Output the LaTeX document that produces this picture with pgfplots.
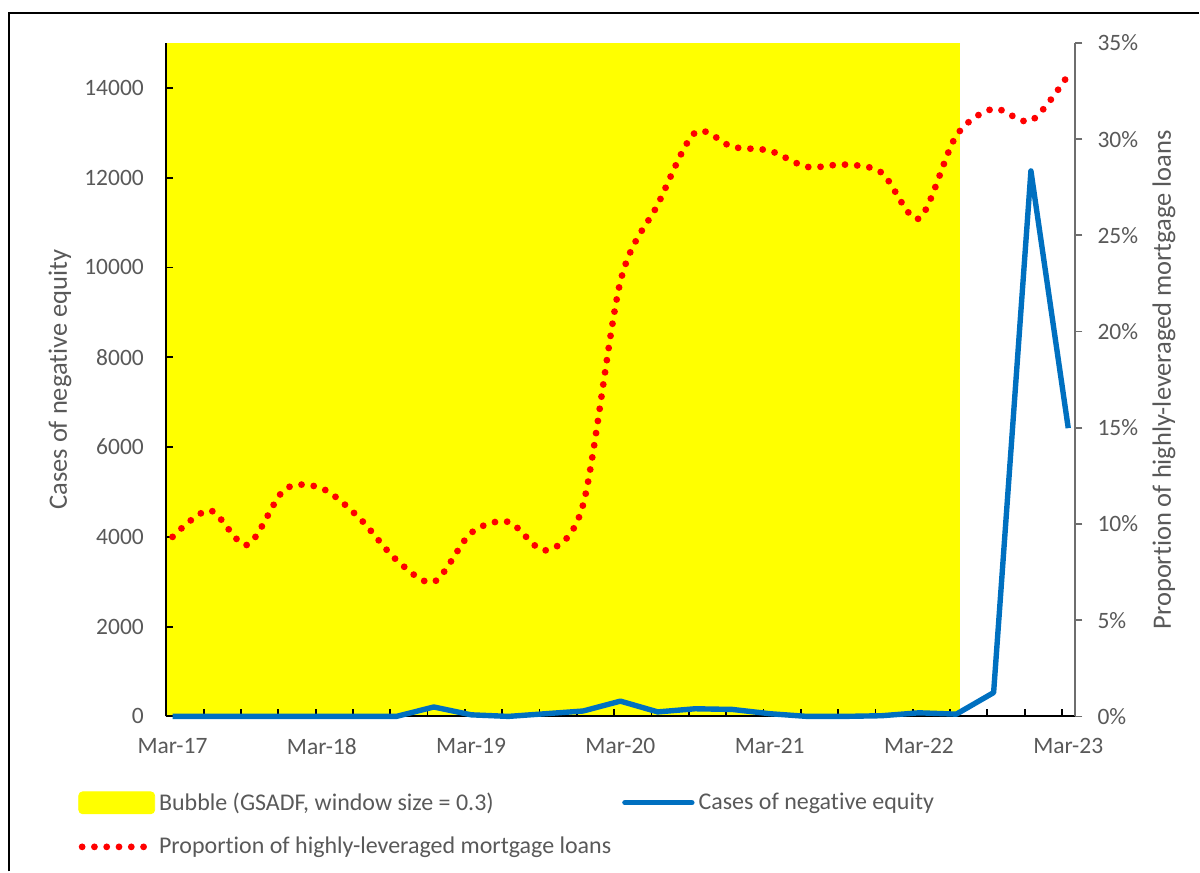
\documentclass[border=0pt]{standalone}
\usepackage{fontspec}
\setmainfont{Carlito}[Ligatures=NoCommon]
\usepackage{pgfplots}
\usepackage{pgfplotstable}
\pgfplotsset{compat=1.18}
\definecolor{txtgray}{RGB}{89,89,89}
\definecolor{xlblue}{RGB}{0,112,192}
\definecolor{axgray}{RGB}{110,110,110}
\definecolor{xlyellow}{RGB}{255,255,0}
\definecolor{xlred}{RGB}{255,0,0}

\pgfplotstableread{
m neg prop
0 0 9.33
3 0 10.71
6 0 8.91
9 0 11.79
12 0 11.85
15 0 10.32
18 0 8.13
21 210 6.99
24 35 9.54
27 0 10.11
30 60 8.63
33 120 11.0
36 340 22.6
39 100 26.6
42 170 30.34
45 155 29.6
48 60 29.4
51 0 28.56
54 0 28.68
57 15 28.26
60 80 25.87
63 50 30.18
66 530 31.58
69 12150 30.95
72 6420 33.34
}\datatable

\pgfplotstableread{
m bubble
-0.54 15000
63.3 15000
}\bubbletable

\begin{document}
\begin{tikzpicture}
\path (0,0) rectangle (600pt,436pt);
\draw[line width=1pt] (4.75pt,0pt) -- (4.75pt,429.4pt) -- (600pt,429.4pt);
\begin{axis}[
  at={(83pt,77.5pt)}, anchor=south west,
  scale only axis, width=455pt, height=337pt,
  set layers, clip=false,
  xmin=-0.54, xmax=72.55, ymin=0, ymax=15000,
  axis x line*=bottom, axis y line*=left,
  axis line style={black, line width=0.9pt},
  xtick={-0.5,2.5,...,71.5},
  xticklabels={Mar-17,,,,Mar-18,,,,Mar-19,,,,Mar-20,,,,Mar-21,,,,Mar-22,,,,Mar-23},
  xticklabel style={xshift=3.1pt},
  ytick={0,2000,...,14000},
  scaled y ticks=false,
  major tick length=3.6pt,
  tick style={black, line width=0.9pt},
  tick align=inside,
  ticklabel style={font=\fontsize{11.75}{14}\selectfont, text=txtgray},
  /pgf/number format/assume math mode=true,
  /pgf/number format/1000 sep={},
  yticklabel={\pgfmathprintnumber[fixed,precision=0,1000 sep={}]{\tick}},
  xticklabel shift=7.5pt, yticklabel shift=7.5pt,
  every axis y label/.style={at={(axis description cs:-0.1165,0.5)}, rotate=90, anchor=center},
  ylabel={Cases of negative equity},
  ylabel style={font=\fontsize{13.25}{16}\selectfont, text=txtgray},
]
\addplot[on layer=axis background, draw=none, fill=xlyellow] table[x=m,y=bubble]{\bubbletable} \closedcycle;
\addplot[xlblue, line width=2.7pt, line join=round] table[x=m,y=neg]{\datatable};
\end{axis}
\begin{axis}[
  at={(83pt,77.5pt)}, anchor=south west,
  scale only axis, width=455pt, height=337pt,
  clip=false,
  xmin=-0.54, xmax=72.55, ymin=0, ymax=35,
  axis x line=none, axis y line*=right,
  axis line style={axgray, line width=0.9pt},
  ytick={0,5,...,35},
  yticklabels={0\%,5\%,10\%,15\%,20\%,25\%,30\%,35\%},
  tick align=outside, major tick length=3.7pt,
  tick style={axgray, line width=0.9pt},
  ticklabel style={font=\fontsize{11.75}{14}\selectfont, text=txtgray},
  /pgf/number format/assume math mode=true,
  yticklabel shift=4pt,
  every axis y label/.style={at={(axis description cs:1.0978,0.5)}, rotate=90, anchor=center},
  ylabel={Proportion of highly-leveraged mortgage loans},
  ylabel style={font=\fontsize{13.25}{16}\selectfont, text=txtgray},
  legend columns=2, legend cell align=left,
  legend style={at={(axis description cs:-0.0967,-0.1065)}, anchor=north west,
    draw=none, fill=none, inner sep=0pt,
    font=\fontsize{12}{14}\selectfont, text=txtgray,
    row sep=8pt,
    /tikz/every even column/.append style={column sep=3.5pt}},
]
\addlegendimage{legend image code/.code={\fill[xlyellow, rounded corners=2pt] (0pt,-5.5pt) rectangle (38pt,5.5pt);}}
\addlegendentry{Bubble (GSADF, window size = 0.3)}
\addlegendimage{legend image code/.code={\draw[xlblue, line width=2.7pt, line cap=round] (0pt,0pt) -- (33.5pt,0pt);}}
\addlegendentry{Cases of negative equity}
\addplot[xlred, smooth, tension=0.5, line width=3.4pt, line cap=round, dash pattern=on 0pt off 6.15pt,
  legend image code/.code={\draw[xlred, line width=3.4pt, line cap=round, dash pattern=on 0pt off 6.15pt] (1.7pt,0pt) -- (35pt,0pt);}]
  table[x=m,y=prop]{\datatable};
\addlegendentry{Proportion of highly-leveraged mortgage loans}
\end{axis}
\end{tikzpicture}
\end{document}
